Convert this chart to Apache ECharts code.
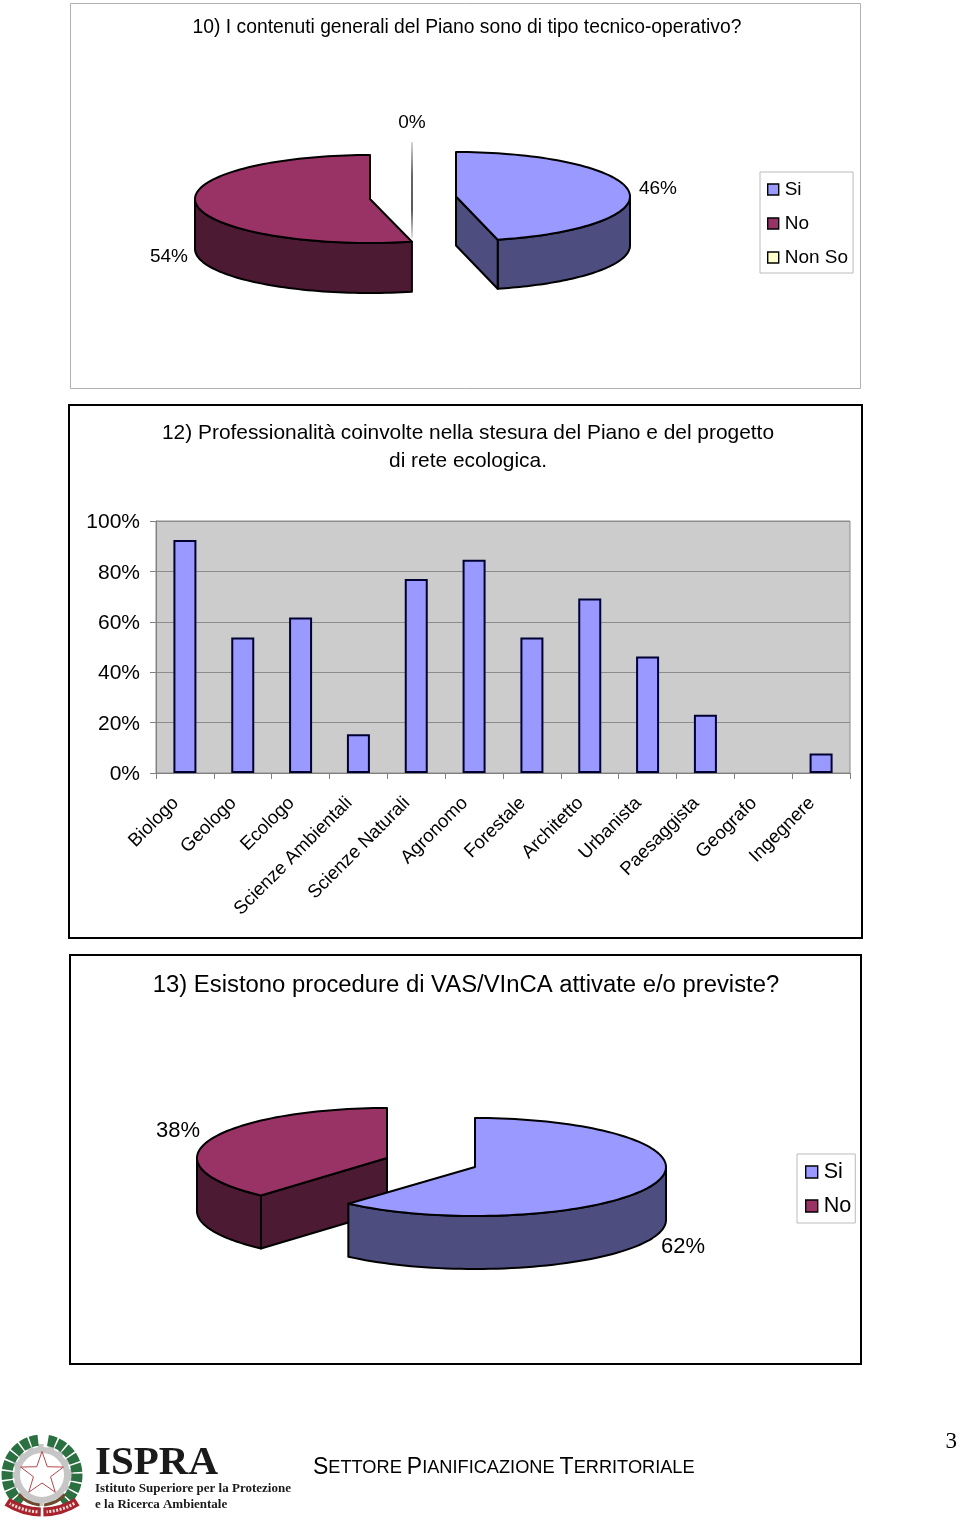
<!DOCTYPE html>
<html><head><meta charset="utf-8">
<style>html,body{margin:0;padding:0;background:#fff}#c{width:960px;height:1528px}</style>
<script src="https://cdn.jsdelivr.net/npm/echarts@6/dist/echarts.min.js"></script>
</head><body><div id="c"></div>
<script>
// ---- data ----
const pieANames = ['Si', 'No', 'Non So'];
const pieAValues = [46.15, 53.85, 0];
const pieBNames = ['Si', 'No'];
const pieBValues = [61.54, 38.46];
const barCategories = ['Biologo','Geologo','Ecologo','Scienze Ambientali','Scienze Naturali','Agronomo','Forestale','Architetto','Urbanista','Paesaggista','Geografo','Ingegnere'];
const barValues = [92.5, 53.8, 61.7, 15.4, 77, 84.6, 53.8, 69.2, 46.2, 23.1, 0, 7.7];
const barTicks = [0, 20, 40, 60, 80, 100];

// ---- styles & layout ----
const FONT = '"Liberation Sans", Arial, sans-serif';
const SERIF = '"Liberation Serif", "Times New Roman", serif';
const PAL = {
  'Si': {top:'#9999ff', wall:'#4d4d80'},
  'No': {top:'#993366', wall:'#4d1a33'},
  'Non So': {top:'#ffffcc', wall:'#80806a'}
};
const pieALayout = [
  {cx:456, cy:196.5, rx:174, ry:44.5, d:49, lx:658, ly:188},
  {cx:370, cy:199, rx:175, ry:44, d:50, lx:169, ly:256},
  {cx:412, cy:190, rx:175, ry:48, d:47, lx:412, ly:122}
];
const pieBLayout = [
  {cx:475, cy:1167, rx:191, ry:49, d:53, lx:683, ly:1246},
  {cx:387, cy:1158, rx:190, ry:50, d:53, lx:178, ly:1130}
];

function slicePoint(l, deg, dy) {
  const a = deg * Math.PI / 180;
  return [l.cx + l.rx * Math.sin(a), l.cy - l.ry * Math.cos(a) + (dy || 0)];
}
function sliceSeries(names, values, layouts, idx, fontSize) {
  const name = names[idx];
  const total = values.reduce((s, v) => s + v, 0);
  const start = values.slice(0, idx).reduce((s, v) => s + v, 0) / total * 360;
  return {
    type: 'custom', name, coordinateSystem: 'none', silent: true, animation: false,
    z: idx === 0 ? 5 : 4,
    data: [[values[idx]]],
    renderItem(params, api) {
      const l = layouts[idx];
      const span = api.value(0) / total * 360;
      const end = start + span;
      const stroke = {stroke:'#000', lineWidth:2, lineJoin:'round'};
      const children = [];
      const label = {
        type:'text', z2:20,
        style:{text:Math.round(api.value(0)) + '%', x:l.lx, y:l.ly + 1, align:'center', verticalAlign:'middle', font:fontSize + 'px ' + FONT, fill:'#000'}
      };
      if (span === 0) {
        children.push({
          type:'line',
          shape:{x1:l.cx, y1:l.cy - l.ry, x2:l.cx, y2:l.cy + l.ry},
          style:{lineWidth:1.5, stroke:{type:'linear', x:0, y:0, x2:0, y2:1, global:false, colorStops:[
            {offset:0, color:'#cccccc'}, {offset:0.35, color:'#333333'}, {offset:0.7, color:'#222222'}, {offset:1, color:'#dddddd'}]}}
        });
        children.push(label);
        return {type:'group', children};
      }
      // outer wall: the part of the rim facing the viewer
      const w1 = Math.max(start, 90), w2 = Math.min(end, 270);
      if (w2 > w1) {
        const up = [], dn = [];
        for (let i = 0; i <= 60; i++) {
          const t = w1 + (w2 - w1) * i / 60;
          up.push(slicePoint(l, t, 0));
          dn.unshift(slicePoint(l, t, l.d));
        }
        children.push({type:'polygon', shape:{points:up.concat(dn)}, style:Object.assign({fill:PAL[name].wall}, stroke)});
      }
      // radial wall
      const radial = (deg) => {
        const p = slicePoint(l, deg, 0);
        children.push({type:'polygon',
          shape:{points:[[l.cx,l.cy], p, [p[0],p[1]+l.d], [l.cx,l.cy+l.d]]},
          style:Object.assign({fill:PAL[name].wall}, stroke)});
      };
      if (start > 180 && start < 360) radial(start);
      if (end > 0 && end < 180) radial(end);
      // top face
      const pts = [[l.cx, l.cy]];
      const n = Math.max(8, Math.ceil(span / 2));
      for (let i = 0; i <= n; i++) pts.push(slicePoint(l, start + span * i / n, 0));
      children.push({type:'polygon', shape:{points:pts}, style:Object.assign({fill:PAL[name].top}, stroke)});
      children.push(label);
      return {type:'group', children};
    }
  };
}
function legendOf(names, left, top, fontSize, sym, gap, pad) {
  return {
    show:true, orient:'vertical', left, top, padding:pad, itemGap:gap, itemWidth:sym, itemHeight:sym,
    icon:'rect', selectedMode:false, backgroundColor:'#fff', borderColor:'#bbbbbb', borderWidth:1,
    textStyle:{fontFamily:FONT, fontSize, color:'#000', padding:[0,0,0,1]},
    data:names.map(n => ({name:n, icon:'rect', itemStyle:{color:PAL[n].top, borderColor:'#000', borderWidth:1.4}}))
  };
}
function frame(x, y, w, h, color, lw) {
  return {type:'rect', silent:true, z:0, shape:{x, y, width:w, height:h}, style:{fill:'none', stroke:color, lineWidth:lw}};
}
function emblem() {
  const cx = 42, cy = 1475, out = [];
  // gear
  out.push({type:'circle', shape:{cx, cy, r:25}, style:{fill:'none', stroke:'#c6c6c6', lineWidth:6}, z:1});
  out.push({type:'circle', shape:{cx, cy, r:29}, style:{fill:'none', stroke:'#c6c6c6', lineWidth:4, lineDash:[6,5]}, z:1});
  // wreath
  const g = '#2a7040';
  out.push({type:'arc', shape:{cx, cy, r:35, startAngle:-1.4, endAngle:0.95}, style:{fill:'none', stroke:g, lineWidth:11, lineDash:[8,1.5]}, z:2});
  out.push({type:'arc', shape:{cx, cy, r:35, startAngle:2.2, endAngle:4.6}, style:{fill:'none', stroke:g, lineWidth:11, lineDash:[8,1.5]}, z:2});
  // branches
  out.push({type:'arc', shape:{cx, cy, r:30, startAngle:0.7, endAngle:1.5}, style:{fill:'none', stroke:'#6b4a2a', lineWidth:3}, z:2});
  out.push({type:'arc', shape:{cx, cy, r:30, startAngle:1.65, endAngle:2.45}, style:{fill:'none', stroke:'#6b4a2a', lineWidth:3}, z:2});
  // star
  const st = [];
  for (let i = 0; i < 10; i++) {
    const r = i % 2 ? 9 : 22.5, a = -Math.PI/2 + i * Math.PI/5;
    st.push([cx + r*Math.cos(a), cy - 1 + r*Math.sin(a)]);
  }
  out.push({type:'polygon', shape:{points:st}, style:{fill:'#fff', stroke:'#b5484f', lineWidth:1}, z:3});
  // ribbon
  out.push({type:'arc', shape:{cx, cy:1447, r:65, startAngle:1.0, endAngle:1.55}, style:{fill:'none', stroke:'#a8242c', lineWidth:9}, z:3});
  out.push({type:'arc', shape:{cx, cy:1447, r:65, startAngle:1.59, endAngle:2.14}, style:{fill:'none', stroke:'#a8242c', lineWidth:9}, z:3});
  out.push({type:'arc', shape:{cx, cy:1447, r:65, startAngle:1.05, endAngle:1.5}, style:{fill:'none', stroke:'#f0dcdc', lineWidth:3, lineDash:[2,1.5]}, z:4});
  out.push({type:'arc', shape:{cx, cy:1447, r:65, startAngle:1.64, endAngle:2.09}, style:{fill:'none', stroke:'#f0dcdc', lineWidth:3, lineDash:[2,1.5]}, z:4});
  return out.map(o => Object.assign(o, {silent:true}));
}
function txt(text, x, y, font, fill, align) {
  return {type:'text', silent:true, z:3, style:{text, x, y, font, fill:fill||'#000', align:align||'left', verticalAlign:'middle'}};
}

const series = [
  sliceSeries(pieANames, pieAValues, pieALayout, 0, 19),
  sliceSeries(pieANames, pieAValues, pieALayout, 1, 19),
  sliceSeries(pieANames, pieAValues, pieALayout, 2, 19),
  sliceSeries(pieBNames, pieBValues, pieBLayout, 1, 22),
  sliceSeries(pieBNames, pieBValues, pieBLayout, 0, 22),
  {
    type:'bar', name:'Professionalità', barWidth:23, animation:false, silent:true, z:3,
    data:barValues.map(v => v === 0 ? {value:0, itemStyle:{borderWidth:0}} : v),
    itemStyle:{color:'#9999ff', borderColor:'#000033', borderWidth:2}
  }
];

const chart = echarts.init(document.getElementById('c'), null, {renderer:'canvas'});
chart.setOption({
  backgroundColor:'#fff',
  animation:false,
  textStyle:{fontFamily:FONT},
  title:[
    {text:'10) I contenuti generali del Piano sono di tipo tecnico-operativo?', left:467, top:18, textAlign:'center', padding:0, z:5,
     textStyle:{fontFamily:FONT, fontSize:19.3, fontWeight:'normal', color:'#000'}},
    {text:'12) Professionalità coinvolte nella stesura del Piano e del progetto\ndi rete ecologica.', left:468, top:419.5, textAlign:'center', padding:0, z:5,
     textStyle:{fontFamily:FONT, fontSize:20.9, fontWeight:'normal', color:'#000', lineHeight:27.5}},
    {text:'13) Esistono procedure di VAS/VInCA attivate e/o previste?', left:466, top:973, textAlign:'center', padding:0, z:5,
     textStyle:{fontFamily:FONT, fontSize:23.85, fontWeight:'normal', color:'#000'}}
  ],
  legend:[
    legendOf(pieANames, 760, 172, 19, 11, 15, [8,5,6,7]),
    legendOf(pieBNames, 797, 1154, 21.6, 12, 12, [7,4,6,8])
  ],
  grid:{left:156, right:110, top:521, bottom:755, show:true, backgroundColor:'#cccccc', borderColor:'#8c8c8c', borderWidth:1, containLabel:false},
  xAxis:{
    type:'category', data:barCategories,
    axisLine:{lineStyle:{color:'#808080', width:1}},
    axisTick:{show:true, length:6, lineStyle:{color:'#808080'}},
    axisLabel:{rotate:45, interval:0, margin:18, padding:[0,13,0,0], fontFamily:FONT, fontSize:18.6, color:'#000'},
    splitLine:{show:false}
  },
  yAxis:{
    type:'value', min:barTicks[0], max:barTicks[barTicks.length-1], interval:barTicks[1]-barTicks[0],
    axisLine:{show:true, lineStyle:{color:'#808080'}},
    axisTick:{show:true, length:6, lineStyle:{color:'#808080'}},
    axisLabel:{margin:16, verticalAlign:'top', lineHeight:3, fontFamily:FONT, fontSize:21, color:'#000', formatter:'{value}%'},
    splitLine:{show:true, lineStyle:{color:'#8c8c8c', width:1}}
  },
  series,
  graphic:{elements:[
    frame(70.5, 3.5, 790, 385, '#b0b0b0', 1),
    frame(69, 405, 793, 533, '#000', 2),
    frame(70, 955, 791, 409, '#000', 2),
    ...emblem(),
    txt('ISPRA', 95, 1463, 'bold 41px ' + SERIF, '#1a1a1a'),
    txt('Istituto Superiore per la Protezione', 95, 1489, 'bold 13px ' + SERIF, '#1a1a1a'),
    txt('e la Ricerca Ambientale', 95, 1505, 'bold 13px ' + SERIF, '#1a1a1a'),
    {type:'text', silent:true, z:3, style:{
      x:313, y:1468, verticalAlign:'middle', fill:'#000',
      text:'{b|S}{a|ETTORE }{b|P}{a|IANIFICAZIONE }{b|T}{a|ERRITORIALE}',
      rich:{a:{fontFamily:FONT, fontSize:18.2, fill:'#000'}, b:{fontFamily:FONT, fontSize:23, fill:'#000'}}
    }},
    txt('3', 957, 1442, '23px ' + SERIF, '#000', 'right')
  ]}
});
</script></body></html>
